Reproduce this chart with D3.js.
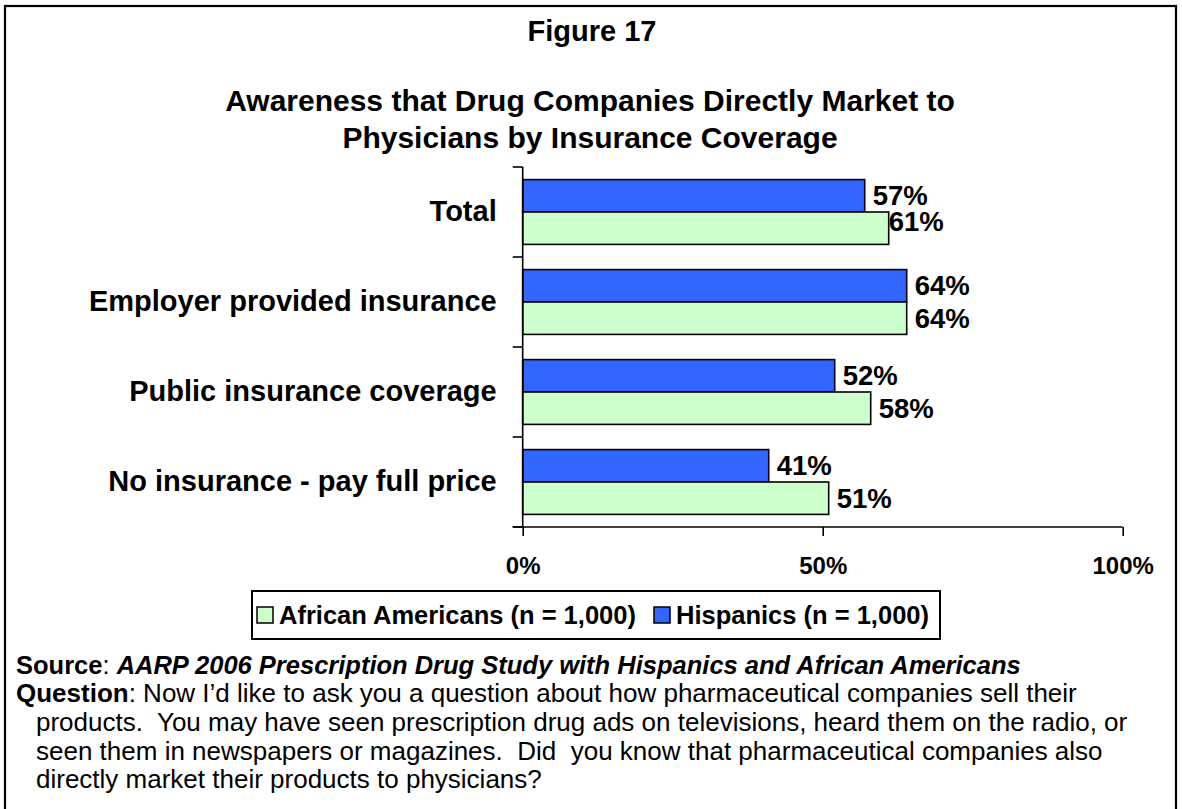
<!DOCTYPE html>
<html>
<head>
<meta charset="utf-8">
<script src="https://cdn.jsdelivr.net/npm/d3@7/dist/d3.min.js"></script>
<style>
  html, body { margin: 0; padding: 0; background: #fff; }
  svg { display: block; font-family: "Liberation Sans", Arial, sans-serif; }
</style>
</head>
<body>
<svg id="chart" width="1182" height="809"></svg>
<script>
// Coverage groups, top to bottom
const categories = [
  "Total",
  "Employer provided insurance",
  "Public insurance coverage",
  "No insurance - pay full price"
];
// Share aware (%) per group
const hispanics = [57, 64, 52, 41];
const africanAmericans = [61, 64, 58, 51];
const seriesNames = ["Hispanics (n = 1,000)", "African Americans (n = 1,000)"];
const legendOrder = ["African Americans (n = 1,000)", "Hispanics (n = 1,000)"];
const xTicks = [0, 50, 100];

const colors = {
  "Hispanics (n = 1,000)": "#3366ff",
  "African Americans (n = 1,000)": "#ccffcc"
};

const rows = categories.map((c, i) => ({
  category: c,
  values: [
    { series: seriesNames[0], value: hispanics[i] },
    { series: seriesNames[1], value: africanAmericans[i] }
  ]
}));

const svg = d3.select("#chart");
const font = '"Liberation Sans", Arial, sans-serif';

// Frame around the whole figure
svg.append("rect")
  .attr("x", 5).attr("y", 6).attr("width", 1171).attr("height", 830)
  .attr("fill", "none").attr("stroke", "#000").attr("stroke-width", 2.2);

// Titles
svg.append("text").attr("x", 592).attr("y", 41)
  .attr("text-anchor", "middle").attr("font-size", 29).attr("font-weight", "bold")
  .text("Figure 17");
const titleLines = [
  "Awareness that Drug Companies Directly Market to",
  "Physicians by Insurance Coverage"
];
svg.append("text").attr("text-anchor", "middle")
  .attr("font-size", 30).attr("font-weight", "bold")
  .selectAll("tspan").data(titleLines).join("tspan")
  .attr("x", 590).attr("y", (d, i) => 111 + i * 37)
  .text(d => d);

// Scales
const x = d3.scaleLinear().domain([0, 100]).range([522.7, 1122.7]);
const y = d3.scaleBand().domain(categories).range([167, 527])
  .paddingInner(0.28).paddingOuter(0.14);
const yInner = d3.scaleBand().domain(seriesNames).range([0, y.bandwidth()]);
const step = y.step();

// Bars
const groups = svg.append("g").selectAll("g").data(rows).join("g")
  .attr("transform", d => `translate(0,${y(d.category)})`);

groups.selectAll("rect").data(d => d.values).join("rect")
  .attr("x", x(0))
  .attr("y", d => yInner(d.series))
  .attr("width", d => x(d.value) - x(0))
  .attr("height", yInner.bandwidth())
  .attr("fill", d => colors[d.series])
  .attr("stroke", "#000").attr("stroke-width", 1.6);

// Value labels (the lower Total label is tucked up against its neighbour)
groups.each(function (row) {
  d3.select(this).selectAll("text").data(row.values).join("text")
    .attr("x", d => x(d.value) + 8 + (row.category === "Total" && d.series === seriesNames[1] ? -8 : 0))
    .attr("y", d => yInner(d.series) + yInner.bandwidth() / 2
      + (row.category === "Total" && d.series === seriesNames[1] ? -6.5 : 0))
    .attr("dy", "0.34em")
    .attr("font-size", 27.5).attr("font-weight", "bold")
    .text(d => d.value + "%");
});

// Y axis: category labels, outward ticks at band boundaries
const yAxis = d3.axisLeft(y).tickSize(0).tickPadding(26);
const yg = svg.append("g").attr("transform", `translate(${x(0)},0)`).call(yAxis);
yg.select(".domain").attr("stroke", "#000").attr("stroke-width", 1.6)
  .attr("d", `M0,${y.range()[0]}V${y.range()[1]}`);
yg.selectAll(".tick text")
  .attr("font-family", font).attr("font-size", 29).attr("font-weight", "bold")
  .attr("fill", "#000");
const bounds = d3.range(categories.length + 1).map(i => y.range()[0] + i * step);
svg.append("g").selectAll("line").data(bounds).join("line")
  .attr("x1", x(0) - 10).attr("x2", x(0))
  .attr("y1", d => d).attr("y2", d => d)
  .attr("stroke", "#000").attr("stroke-width", 1.6);

// X axis
const xAxis = d3.axisBottom(x).tickValues(xTicks).tickSize(9).tickPadding(21)
  .tickFormat(d => d + "%");
const xg = svg.append("g").attr("transform", `translate(0,${y.range()[1]})`).call(xAxis);
xg.select(".domain").attr("stroke", "#000").attr("stroke-width", 1.6)
  .attr("d", `M${x(0) - 10},0H${x(100)}`);
xg.selectAll(".tick line").attr("stroke", "#000").attr("stroke-width", 1.6);
xg.selectAll(".tick text")
  .attr("font-family", font).attr("font-size", 24).attr("font-weight", "bold")
  .attr("fill", "#000");

// Legend
const legend = svg.append("g");
legend.append("rect")
  .attr("x", 252).attr("y", 591).attr("width", 688).attr("height", 48)
  .attr("fill", "#fff").attr("stroke", "#000").attr("stroke-width", 2);
const legendX = [257, 654];
legendOrder.forEach((name, i) => {
  legend.append("rect")
    .attr("x", legendX[i]).attr("y", 607).attr("width", 16).attr("height", 16)
    .attr("fill", colors[name]).attr("stroke", "#000").attr("stroke-width", 1.5);
  legend.append("text")
    .attr("x", legendX[i] + 22).attr("y", 624)
    .attr("font-size", 25.5).attr("font-weight", "bold")
    .text(name);
});

// Source and question notes
const notes = svg.append("g").attr("font-size", 26);
const src = notes.append("text").attr("x", 16).attr("y", 674).attr("font-size", 25.5);
src.append("tspan").attr("font-weight", "bold").text("Source");
src.append("tspan").text(": ");
src.append("tspan").attr("font-weight", "bold").attr("font-style", "italic")
  .text("AARP 2006 Prescription Drug Study with Hispanics and African Americans");

const q = notes.append("text").attr("x", 16).attr("y", 702);
q.append("tspan").attr("font-weight", "bold").text("Question");
q.append("tspan").text(": Now I\u2019d like to ask you a question about how pharmaceutical companies sell their");
const questionLines = [
  "products.  You may have seen prescription drug ads on televisions, heard them on the radio, or",
  "seen them in newspapers or magazines.  Did  you know that pharmaceutical companies also",
  "directly market their products to physicians?"
];
notes.append("text").attr("xml:space", "preserve")
  .selectAll("tspan").data(questionLines).join("tspan")
  .attr("x", 36).attr("y", (d, i) => 731 + i * 28.6)
  .text(d => d);
</script>
</body>
</html>
